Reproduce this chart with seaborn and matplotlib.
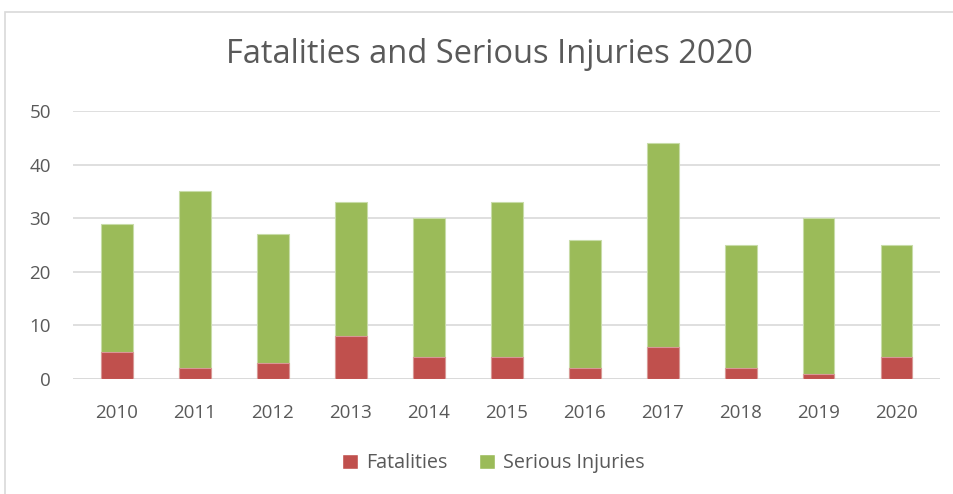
import numpy as np
import pandas as pd
import matplotlib
matplotlib.use('Agg')
import matplotlib.pyplot as plt
import seaborn as sb
from matplotlib.patches import Patch, Rectangle

years = ['2010', '2011', '2012', '2013', '2014', '2015', '2016', '2017', '2018', '2019', '2020']
fatalities = [5, 2, 3, 8, 4, 4, 2, 6, 2, 1, 4]
serious_injuries = [24, 33, 24, 25, 26, 29, 24, 38, 23, 29, 21]

red = '#C0504D'
green = '#9BBB59'
text_gray = '#595959'

sb.set_style('white')
plt.rcParams['font.family'] = ['Open Sans', 'DejaVu Sans']

df = pd.DataFrame({'Year': years, 'Fatalities': fatalities, 'Serious Injuries': serious_injuries})
df['Total'] = df['Fatalities'] + df['Serious Injuries']

fig = plt.figure(figsize=(9.54, 4.94), dpi=100)
ax = fig.add_axes([0.0765, 0.233, 0.909, 0.542])

# stacked bars: total (green) then fatalities (red) drawn over the bottom part
sb.barplot(data=df, x='Year', y='Total', color=green, width=0.41, ax=ax,
           edgecolor='#c8dca8', linewidth=0.8, saturation=1, zorder=3)
sb.barplot(data=df, x='Year', y='Fatalities', color=red, width=0.41, ax=ax,
           edgecolor='#d89896', linewidth=0.8, saturation=1, zorder=3)

ax.set_ylim(0, 50)
ax.set_yticks(range(0, 51, 10))
ax.set_xlim(-0.56, 10.56)
ax.grid(axis='y', color='#d9d9d9', linewidth=1.2, zorder=0)
ax.set_axisbelow(True)
for s in ax.spines.values():
    s.set_visible(False)
ax.axhline(0, color='#d9d9d9', linewidth=1.2, zorder=1)

ax.set_xlabel('')
ax.set_ylabel('')
ax.tick_params(axis='both', length=0, colors=text_gray)
ax.tick_params(axis='x', labelsize=13.5, pad=18)
ax.tick_params(axis='y', labelsize=13.5, pad=16)

fig.text(0.513, 0.889, 'Fatalities and Serious Injuries 2020', ha='center', va='center',
         fontsize=23.5, color=text_gray)

handles = [Patch(facecolor=red, label='Fatalities'),
           Patch(facecolor=green, label='Serious Injuries')]
fig.legend(handles=handles, loc='center', bbox_to_anchor=(0.517, 0.062), ncol=2,
           frameon=False, fontsize=14.2, labelcolor=text_gray, handlelength=0.8,
           handleheight=0.8, columnspacing=1.6, handletextpad=0.4)

# outer chart border
fig.patches.append(Rectangle((0.005, -0.01), 1.0, 0.985, transform=fig.transFigure,
                             fill=False, edgecolor='#d9d9d9', linewidth=1.2))

fig.savefig('out.png', dpi=100)
